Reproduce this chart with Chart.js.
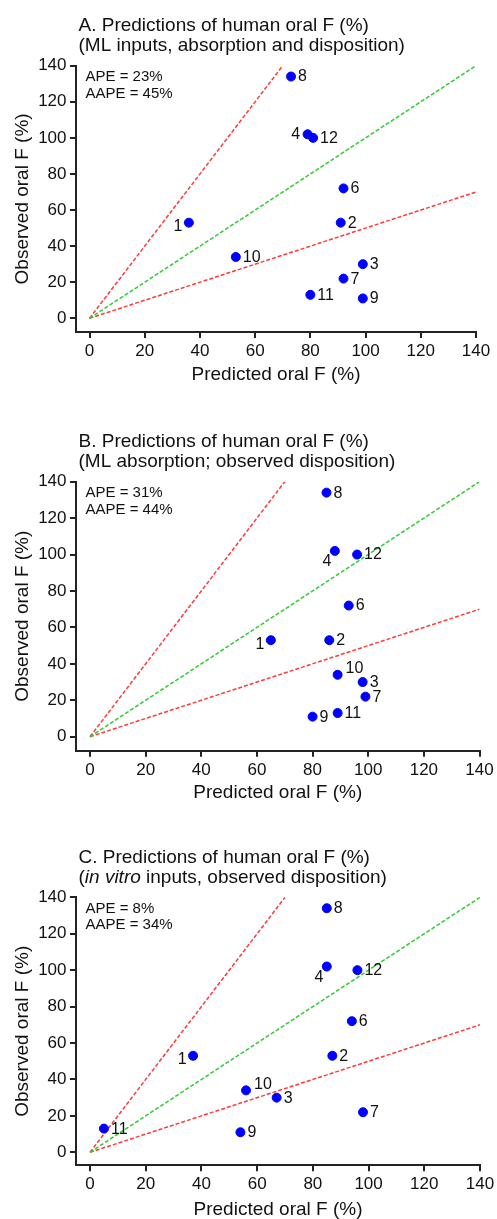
<!DOCTYPE html>
<html>
<head>
<meta charset="utf-8">
<script src="https://cdn.jsdelivr.net/npm/chart.js@4.4.1/dist/chart.umd.min.js"></script>
<style>
  html, body { margin: 0; padding: 0; background: #ffffff; overflow: hidden; width: 497px; height: 1219px; }
  .panel { position: absolute; left: 0; width: 497px; height: 415px; }
  canvas { display: block; }
</style>
</head>
<body>
<div class="panel" style="top:0px"><canvas id="chartA" width="497" height="415"></canvas></div>
<div class="panel" style="top:400px"><canvas id="chartB" width="497" height="415"></canvas></div>
<div class="panel" style="top:815px"><canvas id="chartC" width="497" height="415"></canvas></div>
<script>
// ---------------- DATA ----------------
const compoundIds = ['1', '2', '3', '4', '6', '7', '8', '9', '10', '11', '12'];
const observedF   = [53, 53, 30, 102, 72, 22, 134, 11, 34, 13, 100];
const predictedA  = [36, 91, 99, 79, 92, 92, 73, 99, 53, 80, 81];
const predictedB  = [65, 86, 98, 88, 93, 99, 85, 80, 89, 89, 96];
const predictedC  = [37, 87, 67, 85, 94, 98, 85, 54, 56, 5, 96];
const axisTicks   = [0, 20, 40, 60, 80, 100, 120, 140];
const unityLine    = [[0, 0], [140, 140]];
const twoFoldUpper = [[0, 0], [70, 140]];
const twoFoldLower = [[0, 0], [140, 70]];
const statsA = ['APE = 23%', 'AAPE = 45%'];
const statsB = ['APE = 31%', 'AAPE = 44%'];
const statsC = ['APE = 8%', 'AAPE = 34%'];
const titleA = [[{ t: 'A. Predictions of human oral F (%)' }], [{ t: '(ML inputs, absorption and disposition)' }]];
const titleB = [[{ t: 'B. Predictions of human oral F (%)' }], [{ t: '(ML absorption; observed disposition)' }]];
const titleC = [[{ t: 'C. Predictions of human oral F (%)' }], [{ t: '(' }, { t: 'in vitro', i: true }, { t: ' inputs, observed disposition)' }]];
const xTitle = 'Predicted oral F (%)';
const yTitle = 'Observed oral F (%)';

// ---------------- STYLE ----------------
const FONT = "'Liberation Sans', Arial, Helvetica, sans-serif";
const TEXT = '#111111';
const AXIS_COLOR = '#222222';
const RED = '#ff3a3a';
const GREEN = '#2fcc2f';
const BLUE = '#0000ff';

// label placement (style only): default 'r'
const placeA = { '4': 'l', '1': 'l1' };
const placeB = { '4': 'bl', '1': 'l1', '10': 'ar' };
const placeC = { '4': 'bl', '1': 'l1', '10': 'ar' };

const panelCfg = {};

const decorPlugin = {
  id: 'decor',
  afterDraw(chart) {
    const o = panelCfg[chart.canvas.id];
    const ctx = chart.ctx;
    const a = chart.chartArea;
    ctx.save();
    // panel title (mixed fonts)
    ctx.fillStyle = TEXT;
    ctx.textBaseline = 'alphabetic';
    ctx.textAlign = 'left';
    o.title.forEach((line, li) => {
      let cx = o.titleX;
      const by = a.top + o.titleDy[li];
      line.forEach(seg => {
        ctx.font = (seg.i ? 'italic ' : '') + '19px ' + FONT;
        ctx.fillText(seg.t, cx, by);
        cx += ctx.measureText(seg.t).width;
      });
    });
    // stats
    ctx.font = '15px ' + FONT;
    o.stats.forEach((s, i) => ctx.fillText(s, o.statsX, a.top + o.statsDy[i]));
    // point labels
    ctx.font = '16px ' + FONT;
    ctx.textBaseline = 'middle';
    const meta = chart.getDatasetMeta(0);
    meta.data.forEach((el, i) => {
      const id = compoundIds[i];
      const pos = o.place[id] || 'r';
      let tx = el.x, ty = el.y, al = 'left';
      if (pos === 'r') { tx += 7; ty += 0.5; }
      else if (pos === 'l') { tx -= 7.5; ty += 0.5; al = 'right'; }
      else if (pos === 'l1') { tx -= 6.5; ty += 4; al = 'right'; }
      else if (pos === 'bl') { tx -= 3.5; ty += 11; al = 'right'; }
      else if (pos === 'ar') { tx += 8; ty -= 6; }
      ctx.textAlign = al;
      ctx.fillText(id, tx, ty);
    });
    ctx.restore();
  }
};

function toXY(arr) { return arr.map(p => ({ x: p[0], y: p[1] })); }

function makeChart(id, pred, stats, title, place, L) {
  panelCfg[id] = { place: place, stats: stats, title: title, titleX: 78.5, titleDy: [-34.5, -14.5], statsX: 85.5, statsDy: [15.5, 32] };
  const tMax = axisTicks[axisTicks.length - 1];
  // axes sit a few pixels away from the data origin (GraphPad style)
  const axisLeft = L.dataLeft - L.gapX;
  const axisBottom = L.dataBottom + L.gapY;
  const xMin = -L.gapX * tMax / (L.right - L.dataLeft);
  const yMin = -L.gapY * tMax / (L.dataBottom - L.top);
  const pts = pred.map((v, i) => ({ x: v, y: observedF[i] }));
  const refStyle = (c) => ({ type: 'line', borderColor: c, borderWidth: 1.5, borderDash: [4, 2], pointRadius: 0, fill: false, tension: 0 });
  const axisGrid = { display: true, drawOnChartArea: false, drawTicks: true, tickLength: 6, color: AXIS_COLOR, lineWidth: 2 };
  const axisBorder = { display: true, color: AXIS_COLOR, width: 2 };
  return new Chart(document.getElementById(id), {
    type: 'scatter',
    data: {
      datasets: [
        { type: 'scatter', data: pts, backgroundColor: BLUE, borderColor: BLUE, borderWidth: 1, pointRadius: 4.5 },
        Object.assign({ data: toXY(unityLine) }, refStyle(GREEN)),
        Object.assign({ data: toXY(twoFoldUpper) }, refStyle(RED)),
        Object.assign({ data: toXY(twoFoldLower) }, refStyle(RED))
      ]
    },
    options: {
      responsive: false,
      animation: false,
      events: [],
      layout: { padding: { left: 0, right: 497 - L.right, top: L.top, bottom: 0 } },
      plugins: { legend: { display: false }, tooltip: { enabled: false } },
      scales: {
        x: {
          type: 'linear', min: xMin, max: tMax,
          afterBuildTicks: s => { s.ticks = axisTicks.map(v => ({ value: v })); },
          afterFit: s => { s.height = 415 - axisBottom; s.paddingLeft = 0; s.paddingRight = 0; },
          grid: axisGrid,
          border: axisBorder,
          ticks: { font: { family: FONT, size: 17 }, color: TEXT, padding: 3, maxRotation: 0, autoSkip: false },
          title: { display: true, text: xTitle, font: { family: FONT, size: 19 }, color: TEXT, padding: { top: 0, bottom: L.xtPad } }
        },
        y: {
          type: 'linear', min: yMin, max: tMax,
          afterBuildTicks: s => { s.ticks = axisTicks.map(v => ({ value: v })); },
          afterFit: s => { s.width = axisLeft; s.paddingTop = 0; s.paddingBottom = 0; },
          grid: axisGrid,
          border: axisBorder,
          ticks: { font: { family: FONT, size: 17 }, color: TEXT, padding: 3.5, autoSkip: false },
          title: { display: true, text: yTitle, font: { family: FONT, size: 19 }, color: TEXT, padding: { top: 11.6, bottom: 0 } }
        }
      }
    },
    plugins: [decorPlugin]
  });
}

makeChart('chartA', predictedA, statsA, titleA, placeA, { dataLeft: 89.5, gapX: 13.5, right: 476, top: 65.7, dataBottom: 318.3, gapY: 13.8, xtPad: 28.6 });
makeChart('chartB', predictedB, statsB, titleB, placeB, { dataLeft: 90, gapX: 14, right: 479.5, top: 81.7, dataBottom: 336.7, gapY: 14, xtPad: 10.6 });
makeChart('chartC', predictedC, statsC, titleC, placeC, { dataLeft: 90, gapX: 14, right: 480, top: 82.3, dataBottom: 337.3, gapY: 13, xtPad: 9.3 });
</script>
</body>
</html>
